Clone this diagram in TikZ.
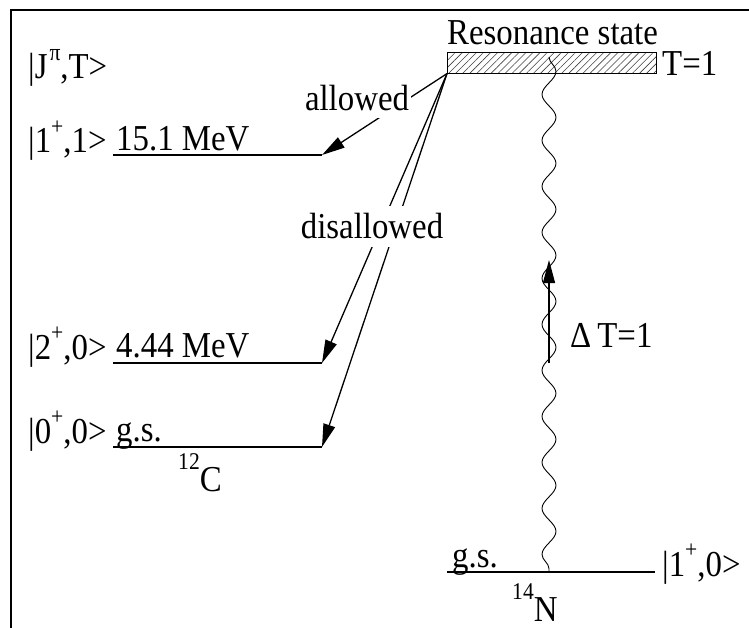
\documentclass[tikz,border=0pt]{standalone}
\usepackage{fontspec}
\setmainfont{Liberation Serif}[FakeStretch=0.9]
\usetikzlibrary{patterns.meta,decorations.pathmorphing,arrows.meta}
\newcommand\supr[1]{\raisebox{0.5em}{\fontsize{24}{24}\selectfont #1}}
\newcommand\iso[1]{\raisebox{22pt}{\fontsize{24}{24}\selectfont #1}}
\begin{document}
\begin{tikzpicture}[x=1pt,y=-1pt,
  txt/.style={inner sep=0pt, anchor=base west, font=\fontsize{36.5}{40}\selectfont},
  lvl/.style={line width=1.3pt},
  arr/.style={line width=1.3pt,-{Triangle[length=23pt,width=12pt]}},
  lbl/.style={fill=white, anchor=base, inner xsep=2pt, inner ysep=7pt, font=\fontsize{36.5}{40}\selectfont},
  wave/.style={line width=0.9pt, decorate, decoration={snake, segment length=46pt, amplitude=7pt}}]
\useasboundingbox (0,0) rectangle (749,628);
% frame
\draw[line width=2pt] (11,628) -- (11,10) -- (749,10);
% resonance box
\node[draw, line width=1pt, pattern={Lines[angle=45,distance=5pt,line width=0.6pt]}, pattern color=darkgray,
  minimum width=209pt, minimum height=21pt, inner sep=0pt, anchor=north west] (res) at (447,52) {};
\node[txt] (rs) at (447,45) {Resonance state};
\node[txt] (t1) at (662,76) {T=1};
% left labels
\node[txt] (jpt) at (28,79) {|J\hspace{2pt}\supr{π},T>};
\node[txt] (s15) at (28,153) {|1\supr{+},1>};
\node[txt] (e15) at (116,151) {15.1 MeV};
\node[txt] (s44) at (28,359) {|2\supr{+},0>};
\node[txt] (e44) at (116,357) {4.44 MeV};
\node[txt] (s0) at (28,443) {|0\supr{+},0>};
\node[txt] (e0) at (116,441) {g.s.};
\node[txt] (c12) at (178,491) {\iso{12}C};
% level lines
\coordinate (l15a) at (113,155); \coordinate (l15b) at (322,155);
\coordinate (l44a) at (113,363); \coordinate (l44b) at (322,363);
\coordinate (l0a) at (113,447);  \coordinate (l0b) at (322,447);
\draw[lvl] (l15a) -- (l15b);
\draw[lvl] (l44a) -- (l44b);
\draw[lvl] (l0a) -- (l0b);
% N14 ground state
\coordinate (na) at (447,572); \coordinate (nb) at (655,572);
\coordinate (nw) at (549,572);
\draw[lvl] (na) -- (nb);
\node[txt] (ngs) at (452,567) {g.s.};
\node[txt] (n10) at (662,576) {|1\supr{+},0>};
\node[txt] (n14) at (512,621) {\iso{14}N};
% transitions
\draw[arr] (res.south west) -- (l15b);
\draw[arr] (res.south west) -- (l44b);
\draw[arr] (res.south west) -- (l0b);
\node[lbl] (al) at (357,111) {allowed};
\node[lbl, inner ysep=8pt] (dis) at (372,239) {disallowed};
% wavy line
\coordinate (wt) at (549,57);
\draw[wave] (wt) -- (nw);
% Delta T arrow
\coordinate (dts) at (549,363); \coordinate (dte) at (549,260);
\draw[arr] (dts) -- (dte);
\node[txt] (dT) at (570,347) {Δ\,T=1};
\end{tikzpicture}
\end{document}
